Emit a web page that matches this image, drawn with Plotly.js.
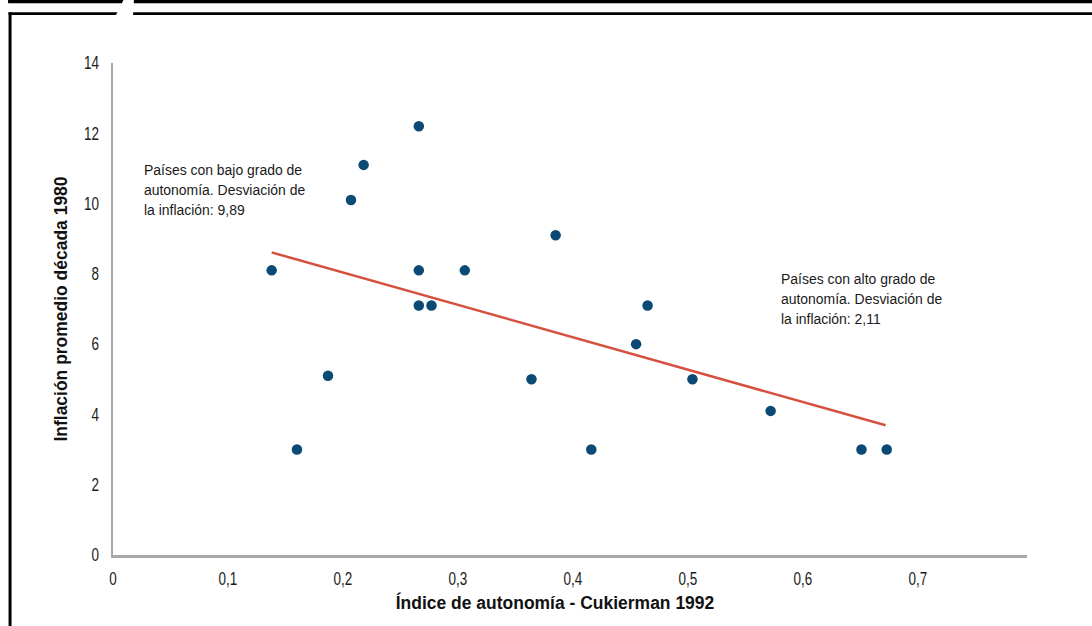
<!DOCTYPE html>
<html>
<head>
<meta charset="utf-8">
<script src="https://cdn.plot.ly/plotly-3.0.1.min.js"></script>
<style>
  html, body { margin: 0; padding: 0; background: #ffffff; }
  #chart { width: 1092px; height: 626px; }
</style>
</head>
<body>
<div id="chart"></div>
<script>
// ---- Data ----
const autonomia = [0.138, 0.160, 0.187, 0.207, 0.218, 0.266, 0.266, 0.266, 0.277, 0.306,
                   0.364, 0.385, 0.416, 0.455, 0.465, 0.504, 0.572, 0.651, 0.673];
const inflacion = [8.1, 3.0, 5.1, 10.1, 11.1, 12.2, 8.1, 7.1, 7.1, 8.1,
                   5.0, 9.1, 3.0, 6.0, 7.1, 5.0, 4.1, 3.0, 3.0];
const tendenciaX = [0.138, 0.672];
const tendenciaY = [8.61, 3.69];
const xTickVals = [0, 0.1, 0.2, 0.3, 0.4, 0.5, 0.6, 0.7];
const xTickText = ["0", "0,1", "0,2", "0,3", "0,4", "0,5", "0,6", "0,7"];
const yTickVals = [0, 2, 4, 6, 8, 10, 12, 14];
const yTickText = ["0", "2", "4", "6", "8", "10", "12", "14"];
const notaBajo = "Países con bajo grado de<br>autonomía. Desviación de<br>la inflación: 9,89";
const notaAlto = "Países con alto grado de<br>autonomía. Desviación de<br>la inflación: 2,11";
const tituloX = "Índice de autonomía - Cukierman 1992";
const tituloY = "Inflación promedio década 1980";

// ---- Layout geometry ----
const W = 1092, H = 626;
const L = 113, R = 1027.5, T = 63, B = 555;
const pw = R - L, ph = B - T;
const px = x => (x - L) / pw;   // pixel -> paper x
const py = y => (B - y) / ph;   // pixel -> paper y

const FONT = '"Liberation Sans", Arial, sans-serif';

const traces = [
  {
    type: 'scatter', mode: 'lines',
    x: tendenciaX, y: tendenciaY,
    line: { color: '#d6503f', width: 2.5 },
    hoverinfo: 'skip', showlegend: false
  },
  {
    type: 'scatter', mode: 'markers',
    x: autonomia, y: inflacion,
    marker: { color: '#0b4a74', size: 10.5, line: { width: 0 } },
    showlegend: false
  }
];

const frameShapes = [
  { type: 'rect', xref: 'paper', yref: 'paper', x0: px(8), x1: px(W + 2), y0: py(0), y1: py(3.3),
    fillcolor: '#000', line: { width: 0 }, layer: 'above' },
  { type: 'rect', xref: 'paper', yref: 'paper', x0: px(8.5), x1: px(W + 2), y0: py(12.3), y1: py(15),
    fillcolor: '#000', line: { width: 0 }, layer: 'above' },
  { type: 'rect', xref: 'paper', yref: 'paper', x0: px(8.5), x1: px(11.5), y0: py(12.3), y1: py(H + 2),
    fillcolor: '#000', line: { width: 0 }, layer: 'above' },
  { type: 'path', xref: 'paper', yref: 'paper', layer: 'above',
    path: 'M ' + px(124) + ' ' + py(-1) + ' L ' + px(134) + ' ' + py(-1) +
          ' L ' + px(133) + ' ' + py(17) + ' L ' + px(115) + ' ' + py(17) + ' Z',
    fillcolor: '#fff', line: { width: 0 } }
];

const layout = {
  width: W, height: H,
  margin: { l: L, r: W - R, t: T, b: H - B, pad: 0 },
  paper_bgcolor: '#ffffff', plot_bgcolor: '#ffffff',
  font: { family: FONT, color: '#1a1a1a', size: 15 },
  showlegend: false,
  xaxis: {
    range: [0, 0.795], fixedrange: true,
    tickvals: xTickVals, ticktext: xTickText,
    showgrid: false, zeroline: false,
    showline: true, linecolor: '#a8a8a8', linewidth: 2.5,
    ticks: '', ticklabelstandoff: 6,
    tickfont: { family: FONT, size: 18, color: '#1a1a1a' },
    title: { text: tituloX, font: { family: FONT, size: 19, color: '#111', weight: 'bold' }, standoff: 8 }
  },
  yaxis: {
    range: [0, 14], fixedrange: true,
    tickvals: yTickVals, ticktext: yTickText,
    showgrid: false, zeroline: false,
    showline: true, linecolor: '#a8a8a8', linewidth: 2.5,
    ticks: '', ticklabelstandoff: 8,
    tickfont: { family: FONT, size: 18, color: '#1a1a1a' },
    title: { text: tituloY, font: { family: FONT, size: 19, color: '#111', weight: 'bold' }, standoff: 6 }
  },
  annotations: [
    { text: notaBajo, xref: 'paper', yref: 'paper', x: px(142), y: py(189),
      xanchor: 'left', yanchor: 'middle', align: 'left', showarrow: false,
      font: { family: FONT, size: 15.5, color: '#1a1a1a' } },
    { text: notaAlto, xref: 'paper', yref: 'paper', x: px(779), y: py(298),
      xanchor: 'left', yanchor: 'middle', align: 'left', showarrow: false,
      font: { family: FONT, size: 15.5, color: '#1a1a1a' } }
  ],
  shapes: frameShapes
};

// Narrow the text horizontally around its anchor (the reference uses a condensed face),
// and nudge the x-axis title left to where the reference sets it.
function condense(gd) {
  const groups = [
    ['.xtick text, .ytick text', 0.75, 0],
    ['.annotation-text', 0.9, 0],
    ['.g-ytitle text', 0.92, 0],
    ['.g-xtitle text', 0.92, -15]
  ];
  groups.forEach(([sel, s, dx]) => {
    gd.querySelectorAll(sel).forEach(t => {
      const ax = parseFloat(t.getAttribute('x')) || 0;
      const ay = parseFloat(t.getAttribute('y')) || 0;
      const prev = t.getAttribute('transform') || '';
      t.setAttribute('transform',
        (dx ? 'translate(' + dx + ',0) ' : '') + prev +
        ' translate(' + ax + ',' + ay + ') scale(' + s + ',1) translate(' + (-ax) + ',' + (-ay) + ')');
    });
  });
}

Plotly.newPlot('chart', traces, layout, { displayModeBar: false, staticPlot: true }).then(condense);
</script>
</body>
</html>
